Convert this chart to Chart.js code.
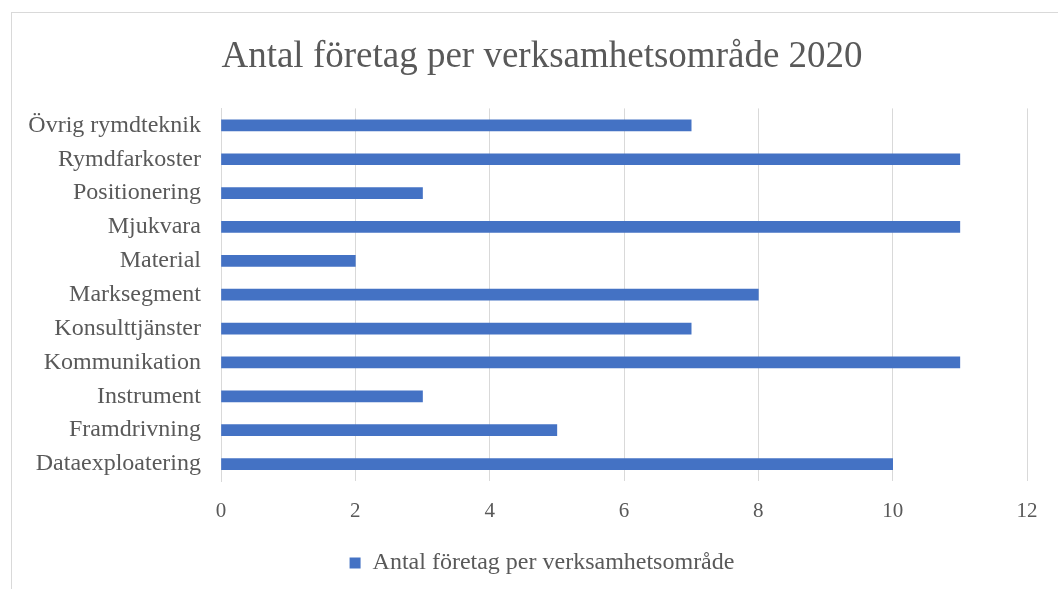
<!DOCTYPE html>
<html>
<head>
<meta charset="utf-8">
<script src="https://cdn.jsdelivr.net/npm/chart.js@4/dist/chart.umd.min.js"></script>
<style>
  html, body { margin: 0; padding: 0; background: #fff; overflow: hidden; }
  #wrap { position: relative; width: 1058px; height: 589px; }
  #frame { position: absolute; left: 11px; top: 12px; width: 1100px; height: 600px;
           border-left: 1px solid #d9d9d9; border-top: 1px solid #d9d9d9; }
  canvas { position: absolute; left: 0; top: 0; }
</style>
</head>
<body>
<div id="wrap">
  <div id="frame"></div>
  <canvas id="chart" width="1058" height="589"></canvas>
</div>
<script>
const categories = ["Övrig rymdteknik", "Rymdfarkoster", "Positionering", "Mjukvara", "Material",
    "Marksegment", "Konsulttjänster", "Kommunikation", "Instrument", "Framdrivning", "Dataexploatering"];
const antal = [7, 11, 3, 11, 2, 8, 7, 11, 3, 5, 10];
const seriesName = "Antal företag per verksamhetsområde";
const titleText = "Antal företag per verksamhetsområde 2020";

const serif = "'Liberation Serif', 'Times New Roman', serif";
const textColor = "#595959";

// title and legend sit a bit right of the canvas centre in the original
const shiftBlocks = {
    id: 'shiftBlocks',
    afterLayout(chart) {
        chart.titleBlock.left += 57;
        chart.legend.left += 57;
    }
};

let ctx = document.getElementById("chart");
let graph = new Chart(ctx, {
    type: 'bar',
    data: {
        labels: categories,
        datasets: [{
            label: seriesName,
            backgroundColor: "#4472c4",
            barThickness: 11,
            data: antal
        }]
    },
    options: {
        indexAxis: 'y',
        responsive: false,
        animation: false,
        layout: { padding: { left: 0, right: 31, top: 0, bottom: 4 } },
        plugins: {
            title: {
                display: true,
                text: titleText,
                color: textColor,
                font: { family: serif, size: 37, weight: 'normal' },
                padding: { top: 35, bottom: 29 }
            },
            legend: {
                position: 'bottom',
                labels: {
                    color: textColor,
                    boxWidth: 11,
                    boxHeight: 11,
                    font: { family: serif, size: 24 }
                }
            },
            tooltip: { enabled: false }
        },
        scales: {
            x: {
                min: 0,
                max: 12,
                ticks: { stepSize: 2, color: textColor, padding: 18, font: { family: serif, size: 21 } },
                grid: { color: "#d9d9d9", drawTicks: false },
                border: { display: false },
                afterFit: function (scale) { scale.height = 60; }
            },
            y: {
                ticks: { color: textColor, padding: 20, font: { family: serif, size: 24 } },
                grid: { display: false, drawTicks: false },
                border: { color: "#d9d9d9" },
                afterFit: function (scale) { scale.width = 221; }
            }
        }
    },
    plugins: [shiftBlocks]
});
</script>
</body>
</html>
